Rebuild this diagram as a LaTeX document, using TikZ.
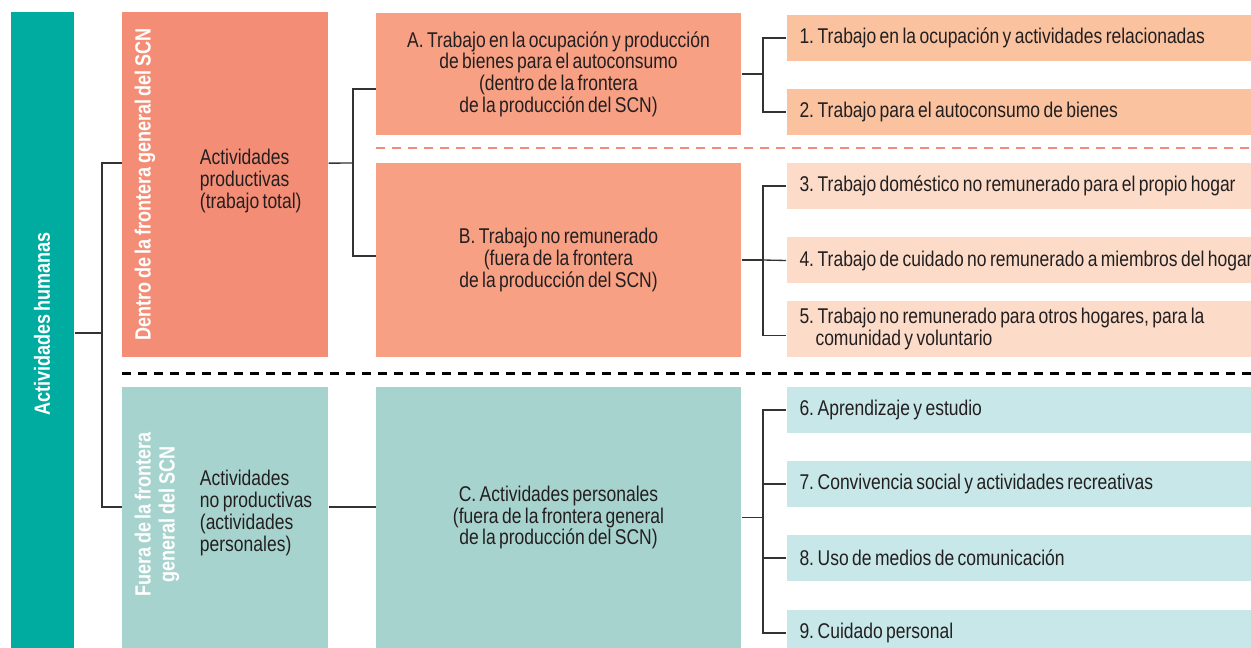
\documentclass[tikz,border=0pt]{standalone}
\usepackage{fontspec}
\setmainfont{Liberation Sans}[FakeStretch=0.82, WordSpace=0.7]

\definecolor{colHum}{RGB}{0,171,159}
\definecolor{colDentro}{RGB}{244,141,118}
\definecolor{colTrab}{RGB}{247,160,131}
\definecolor{colOcup}{RGB}{250,194,158}
\definecolor{colNoRem}{RGB}{252,220,201}
\definecolor{colFuera}{RGB}{167,211,206}
\definecolor{colPers}{RGB}{199,231,232}
\definecolor{colSepRed}{RGB}{240,141,120}
\definecolor{colLine}{RGB}{51,51,51}
\definecolor{colText}{RGB}{35,31,32}

\tikzset{every picture/.style={line width=0.75pt}}
\tikzset{
  box/.style={rectangle, draw=none, inner sep=0pt},
  lbl/.style={font=\fontsize{16}{16.3}\selectfont, text=colText},
  vlbl/.style={font=\fontsize{16.5}{18}\selectfont\bfseries, text=white, rotate=90, align=center},
  midbox/.style={box, lbl, align=center, minimum width=273.75pt},
  actbox/.style={box, lbl, anchor=west, inner xsep=9.75pt, text width=370pt, align=flush left, minimum height=34.5pt},
  conn/.style={color=colLine, line width=1pt},
  sepred/.style={color=colSepRed, line width=1.6pt, dash pattern=on 6.75pt off 5.25pt},
  sepblack/.style={color=black, line width=2.25pt, dash pattern=on 6.5pt off 5.5pt}
}

\begin{document}
\begin{tikzpicture}[x=0.75pt,y=0.75pt,yscale=-1,xscale=1]
\useasboundingbox (0,0) rectangle (1251,648);

%Left bar
\node [box, fill=colHum, minimum width=47.25pt, minimum height=477pt] (humanas) at (42.5,330) {};
\node [vlbl] (humlbl) at (42,324) {Actividades humanas};

%Dentro / Fuera
\node [box, fill=colDentro, minimum width=154.5pt, minimum height=258.75pt] (dentro) at (225,184.5) {};
\node [vlbl] (dentrolbl) at (145,184.5) {Dentro de la frontera general del SCN};
\node [lbl, anchor=west, align=left, font=\fontsize{16}{16.5}\selectfont] (prodtxt) at (195,181) {Actividades\\productivas\\(trabajo total)};

\node [box, fill=colFuera, minimum width=154.5pt, minimum height=195.75pt] (fuera) at (225,517.5) {};
\node [vlbl] (fueralbl) at (157,514.5) {Fuera de la frontera\\general del SCN};
\node [lbl, anchor=west, align=left, font=\fontsize{16}{16.5}\selectfont] (nprodtxt) at (195,513) {Actividades\\no productivas\\(actividades\\personales)};

%Middle boxes
\node [midbox, fill=colTrab, minimum height=91.5pt] (trabA) at (558.5,74) {A. Trabajo en la ocupación y producción\\de bienes para el autoconsumo\\(dentro de la frontera\\de la producción del SCN)};
\node [midbox, fill=colTrab, minimum height=145.5pt] (trabB) at (558.5,260) {B. Trabajo no remunerado\\(fuera de la frontera\\de la producción del SCN)};
\node [midbox, fill=colFuera, minimum height=195.75pt] (persC) at (558.5,517.5) {C. Actividades personales\\(fuera de la frontera general\\de la producción del SCN)};

%Right boxes
\node [actbox, fill=colOcup] (act1) at (786,38) {1.\,Trabajo en la ocupación y actividades relacionadas};
\node [actbox, fill=colOcup] (act2) at (786,112) {2.\,Trabajo para el autoconsumo de bienes};
\node [actbox, fill=colNoRem] (act3) at (786,186) {3.\,Trabajo doméstico no remunerado para el propio hogar};
\node [actbox, fill=colNoRem] (act4) at (786,260.5) {4.\,Trabajo de cuidado no remunerado a miembros del hogar};
\node [actbox, fill=colNoRem, minimum height=42pt] (act5) at (786,329) {5.\,Trabajo no remunerado para otros hogares, para la\\\hspace*{12pt}comunidad y voluntario};
\node [actbox, fill=colPers] (act6) at (786,410) {6.\,Aprendizaje y estudio};
\node [actbox, fill=colPers] (act7) at (786,484) {7.\,Convivencia social y actividades recreativas};
\node [actbox, fill=colPers] (act8) at (786,558) {8.\,Uso de medios de comunicación};
\node [actbox, fill=colPers] (act9) at (786,633) {9.\,Cuidado personal};

%Separators
\draw [sepred] (376,148) -- (1251,148);
\draw [sepblack] (122,373) -- (1251,373);

%Connectors
\coordinate (k1) at (102,333);
\coordinate (k2) at (353,163);
\coordinate (k4) at (763,74);
\coordinate (k5) at (763,260);
\coordinate (k6) at (763,517.5);

\draw [conn] (humanas.east |- k1) -- (k1);
\draw [conn] ([yshift=-16pt]dentro.west) -| (k1) |- ([yshift=-8pt]fuera.west);

\draw [conn] ([yshift=-16pt]dentro.east) -- (k2);
\draw [conn] ([yshift=11.25pt]trabA.west) -| (k2) |- ([yshift=-3pt]trabB.west);
\draw [conn] ([yshift=-8pt]fuera.east) -- ([yshift=-8pt]persC.west);

\draw [conn] (trabA.east) -- (k4);
\draw [conn] (act1.west) -| (k4) |- (act2.west);

\draw [conn] (trabB.east) -- (k5);
\draw [conn] (act3.west) -| (k5) |- ([yshift=5pt]act5.west);
\draw [conn] (k5) -- (act4.west);

\draw [conn] (persC.east) -- (k6);
\draw [conn] (act6.west) -| (k6) |- (act9.west);
\draw [conn] (act7.west) -| (k6);
\draw [conn] (act8.west) -| (k6);

\end{tikzpicture}
\end{document}
